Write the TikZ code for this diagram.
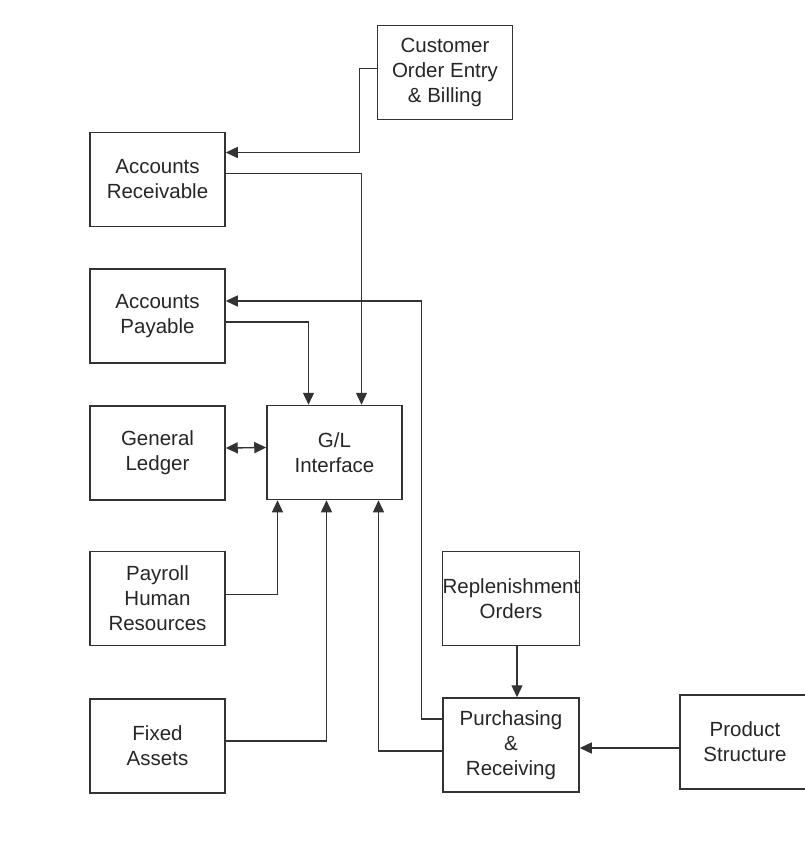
\documentclass[tikz,border=0pt]{standalone}
\usepackage{fontspec}
\setmainfont{Liberation Sans}
\usetikzlibrary{arrows.meta}

\begin{document}
\begin{tikzpicture}[x=1pt,y=-1pt,
  block/.style={draw=black!80,line width=1.5pt,minimum width=135pt,minimum height=94pt,
    inner xsep=0pt,align=center,font=\fontsize{20.5}{25}\selectfont,text=black!85},
  flow/.style={draw=black!80,line width=1.4pt,-{Triangle[length=12pt,width=11pt]}},
  biflow/.style={flow,{Triangle[length=12pt,width=11pt]}-{Triangle[length=12pt,width=11pt]}}]
\useasboundingbox (0,0) rectangle (805,857);
% boxes
\node[block] (cust) at (445,72.5) {Customer\\Order Entry\\\& Billing};
\node[block] (ar) at (157.5,179.5) {Accounts\\Receivable};
\node[block] (ap) at (157.5,316) {Accounts\\Payable};
\node[block] (gl) at (157.5,453) {General\\Ledger};
\node[block] (gli) at (334.5,452.5) {G/L\\Interface};
\node[block] (pay) at (157.5,598.5) {Payroll\\Human\\Resources};
\node[block] (fa) at (157.5,746) {Fixed\\Assets};
\node[block,minimum width=136pt] (rep) at (511,598.5) {Replenishment\\Orders};
\node[block,minimum width=136pt] (pur) at (511,745) {Purchasing\\\&\\Receiving};
\node[block,minimum width=130pt] (prod) at (745,742) {Product\\Structure};
% connectors
\draw[flow] ([yshift=4pt]cust.west) -- ++(-17,0) |- ([yshift=27pt]ar.east);
\draw[flow] ([yshift=6pt]ar.east) -| ([xshift=27pt]gli.north);
\draw[flow] ([yshift=26pt]pur.west) -- ++(-21,0) |- ([yshift=15pt]ap.east);
\draw[flow] ([yshift=-6pt]ap.east) -| ([xshift=-26pt]gli.north);
\draw[biflow] ([yshift=5pt]gl.east) -- ([yshift=5pt]gli.west);
\draw[flow] ([yshift=4pt]pay.east) -| ([xshift=-57pt]gli.south);
\draw[flow] ([yshift=5pt]fa.east) -| ([xshift=-8pt]gli.south);
\draw[flow] ([yshift=-6pt]pur.west) -| ([xshift=44pt]gli.south);
\draw[flow] ([xshift=6pt]rep.south) -- ([xshift=6pt]pur.north);
\draw[flow] ([yshift=-6pt]prod.west) -- ([yshift=-3pt]pur.east);
\end{tikzpicture}
\end{document}
